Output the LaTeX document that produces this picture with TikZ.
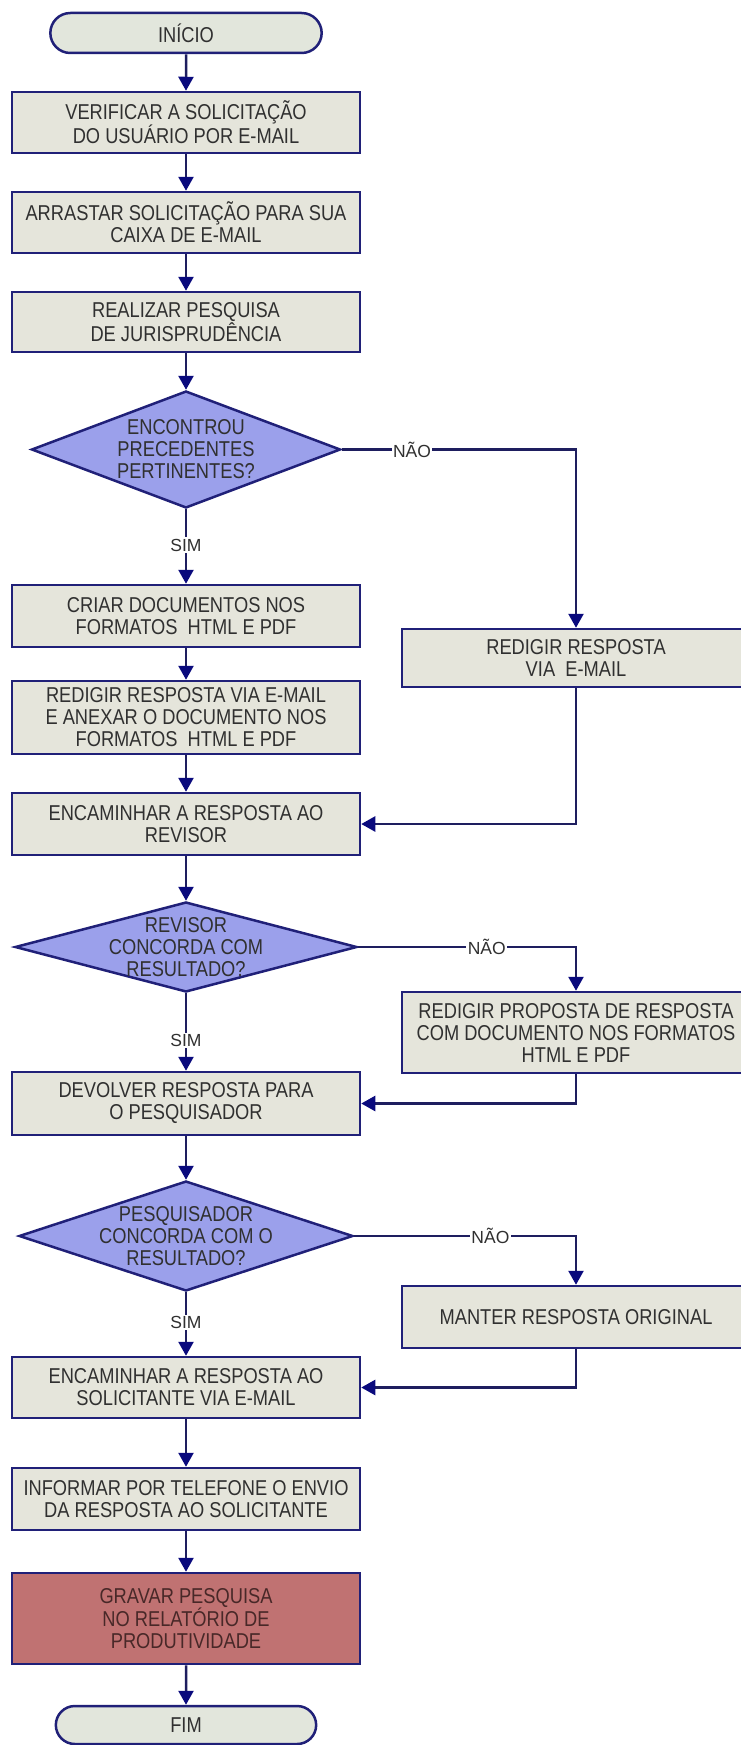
\documentclass[tikz,border=0pt]{standalone}
\usepackage{fontspec}
\setmainfont{Liberation Sans}[FakeStretch=0.85]
\newfontfamily\lblfont{Liberation Sans}
\usetikzlibrary{shapes.geometric,shapes.misc,arrows.meta}
\definecolor{boxfill}{RGB}{229,229,219}
\definecolor{termfill}{RGB}{226,230,220}
\definecolor{boxline}{RGB}{32,32,120}
\definecolor{decfill}{RGB}{155,160,235}
\definecolor{redfill}{RGB}{192,114,114}
\definecolor{linecol}{RGB}{30,30,95}
\definecolor{arrowcol}{RGB}{10,10,125}
\definecolor{txt}{RGB}{48,48,48}
\definecolor{redtxt}{RGB}{72,40,40}
\tikzset{
  proc/.style={draw=boxline, line width=2.5pt, fill=boxfill, minimum width=348pt,
    align=center, inner sep=2pt, text=txt, font=\fontsize{21.5}{22}\selectfont},
  redproc/.style={proc, fill=redfill, text=redtxt},
  term/.style={rounded rectangle, draw=boxline, line width=2.5pt, fill=termfill,
    minimum height=40pt, text=txt, font=\fontsize{21.5}{22}\selectfont},
  dec/.style={diamond, draw=boxline, line width=2.5pt, fill=decfill, inner sep=0pt},
  dectext/.style={align=center, text=txt, font=\fontsize{21.5}{22}\selectfont},
  conn/.style={draw=linecol, line width=2.5pt,
    -{Triangle[width=15pt,length=14pt,color=arrowcol]}},
  lbl/.style={fill=white, inner sep=1.5pt, text=txt, font=\lblfont\fontsize{17.5}{17.5}\selectfont}
}
\begin{document}
\begin{tikzpicture}[x=1pt,y=-1pt]
\useasboundingbox[fill=white] (0,0) rectangle (740,1745);

\node[term, minimum width=278pt] (start) at (186,33) {INÍCIO};
\node[proc, minimum height=61pt] (b1) at (186,122.5) {VERIFICAR A SOLICITAÇÃO\\DO USUÁRIO POR E-MAIL};
\node[proc, minimum height=61pt] (b2) at (186,222.5) {ARRASTAR SOLICITAÇÃO PARA SUA\\CAIXA DE E-MAIL};
\node[proc, minimum height=60pt] (b3) at (186,322) {REALIZAR PESQUISA\\DE JURISPRUDÊNCIA};
\node[dec, minimum width=309pt, minimum height=117pt,
  label={[dectext]center:ENCONTROU\\PRECEDENTES\\PERTINENTES?}] (d1) at (186,449.5) {};
\node[proc, minimum height=62pt] (b4) at (186,616) {CRIAR DOCUMENTOS NOS\\FORMATOS\ \ HTML E PDF};
\node[proc, minimum height=73pt] (b5) at (186,717.5) {REDIGIR RESPOSTA VIA E-MAIL\\E ANEXAR O DOCUMENTO NOS\\FORMATOS\ \ HTML E PDF};
\node[proc, minimum height=62pt] (b6) at (186,824) {ENCAMINHAR A RESPOSTA AO\\REVISOR};
\node[proc, minimum height=58pt] (r1) at (576,658) {REDIGIR RESPOSTA\\VIA\ \ E-MAIL};
\node[dec, minimum width=342pt, minimum height=90pt,
  label={[dectext]center:REVISOR\\CONCORDA COM\\RESULTADO?}] (d2) at (186,947) {};
\node[proc, minimum height=81pt] (r2) at (576,1032.5) {REDIGIR PROPOSTA DE RESPOSTA\\COM DOCUMENTO NOS FORMATOS\\HTML E PDF};
\node[proc, minimum height=63pt] (b7) at (186,1103.5) {DEVOLVER RESPOSTA PARA\\O PESQUISADOR};
\node[dec, minimum width=334pt, minimum height=110pt,
  label={[dectext]center:PESQUISADOR\\CONCORDA COM O\\RESULTADO?}] (d3) at (186,1236) {};
\node[proc, minimum height=62pt] (r3) at (576,1317) {MANTER RESPOSTA ORIGINAL};
\node[proc, minimum height=61pt] (b8) at (186,1387.5) {ENCAMINHAR A RESPOSTA AO\\SOLICITANTE VIA E-MAIL};
\node[proc, minimum height=62pt] (b9) at (186,1499) {INFORMAR POR TELEFONE O ENVIO\\DA RESPOSTA AO SOLICITANTE};
\node[redproc, minimum height=91pt] (b10) at (186,1618.5) {GRAVAR PESQUISA\\NO RELATÓRIO DE\\PRODUTIVIDADE};
\node[term, minimum width=267pt, minimum height=38pt] (end) at (186,1725) {FIM};

\draw[conn] (start) -- (b1);
\draw[conn] (b1) -- (b2);
\draw[conn] (b2) -- (b3);
\draw[conn] (b3) -- (d1);
\draw[conn] (d1.south) -- node[lbl, pos=0.48]{SIM} (b4.north);
\draw[conn] (d1.east) -| node[lbl, pos=0.15]{NÃO} (r1.north);
\draw[conn] (b4) -- (b5);
\draw[conn] (b5) -- (b6);
\draw[conn] (r1.south) |- (b6.east);
\draw[conn] (b6) -- (d2);
\draw[conn] (d2.south) -- node[lbl, pos=0.61]{SIM} (b7.north);
\draw[conn] (d2.east) -| node[lbl, pos=0.295]{NÃO} (r2.north);
\draw[conn] (r2.south) |- (b7.east);
\draw[conn] (b7) -- (d3);
\draw[conn] (d3.south) -- node[lbl, pos=0.48]{SIM} (b8.north);
\draw[conn] (d3.east) -| node[lbl, pos=0.307]{NÃO} (r3.north);
\draw[conn] (r3.south) |- (b8.east);
\draw[conn] (b8) -- (b9);
\draw[conn] (b9) -- (b10);
\draw[conn] (b10) -- (end);
\end{tikzpicture}
\end{document}
